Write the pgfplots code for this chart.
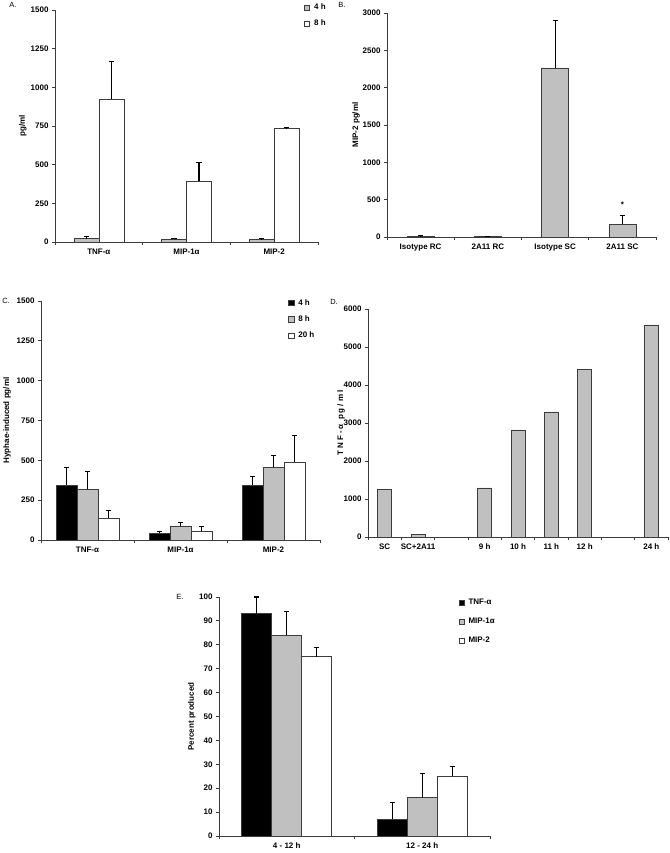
\documentclass[border=0pt]{standalone}
\usepackage{fontspec}
\setmainfont{Liberation Sans}
\usepackage{pgfplots}
\pgfplotsset{compat=1.18}
\definecolor{barg}{RGB}{192,192,192}
\definecolor{axc}{RGB}{60,60,60}
\newcommand{\lf}{\bfseries\fontsize{8}{9.6}\selectfont}
\pgfplotsset{
 panel/.style={
  scale only axis,
  anchor=south west,
  axis x line*=bottom, axis y line*=left,
  axis line style={axc, line width=0.8pt},
  every tick/.style={axc, line width=0.8pt},
  major tick length=3pt,
  tick align=outside,
  ymin=0,
  font=\lf,
  tick label style={font=\lf},
  label style={font=\lf},
  /pgf/number format/assume math mode=true,
  /pgf/number format/1000 sep={},
  x tick label as interval,
  ybar=0pt,
  legend style={draw=none, fill=none, font=\lf, legend cell align=left, row sep=5pt},
  legend image code/.code={\draw[#1, draw=axc, line width=0.4pt] (0pt,-2.6pt) rectangle (5.2pt,2.6pt); \path (7.5pt,0pt);},
 },
 eb/.style={draw=axc, line width=0.6pt,
  error bars/.cd, y dir=plus, y explicit,
  error bar style={black, line width=1.1pt},
  error mark options={black, line width=1.1pt, mark size=2.6pt, rotate=90}},
}
\begin{document}
\begin{tikzpicture}
\path[use as bounding box] (0pt,0pt) rectangle (669pt,853pt);
% ---------- A ----------
\begin{axis}[panel, at={(55pt,611pt)}, width=263pt, height=232pt,
  xmin=0, xmax=3, ymax=1500, ytick={0,250,...,1500},
  xtick={0,1,2,3}, xticklabels={TNF-α,MIP-1α,MIP-2},
  bar width=25pt,
  ylabel={pg/ml}, ylabel style={at={(axis description cs:-0.122,0.5)}, anchor=center},
  legend style={at={(axis description cs:0.935,1.045)}, anchor=north west}]
\addplot[fill=barg, eb] coordinates {(0.5,22) +- (0,16) (1.5,18) +- (0,7) (2.5,15) +- (0,10)};
\addplot[fill=white, eb] coordinates {(0.5,925) +- (0,240) (1.5,395) +- (0,120) (2.5,735) +- (0,5)};
\legend{4 h, 8 h}
\end{axis}
% ---------- B ----------
\begin{axis}[panel, at={(387pt,616pt)}, width=269pt, height=224pt,
  xmin=0, xmax=4, ymax=3000, ytick={0,500,...,3000},
  xtick={0,1,2,3,4}, xticklabels={Isotype RC,2A11 RC,Isotype SC,2A11 SC},
  bar width=27pt,
  ylabel={MIP-2 pg/ml}, ylabel style={at={(axis description cs:-0.115,0.5)}, anchor=center}]
\addplot[fill=barg, eb] coordinates {(0.5,8) +- (0,10) (1.5,5) +- (0,3) (2.5,2265) +- (0,635) (3.5,170) +- (0,120)};
\node[font=\lf] at (axis cs:3.5,430) {*};
\end{axis}
% ---------- C ----------
\begin{axis}[panel, at={(41pt,313pt)}, width=279pt, height=239pt,
  xmin=0, xmax=3, ymax=1500, ytick={0,250,...,1500},
  xtick={0,1,2,3}, xticklabels={TNF-α,MIP-1α,MIP-2},
  bar width=21pt,
  ylabel={Hyphae-induced pg/ml}, ylabel style={at={(axis description cs:-0.122,0.5)}, anchor=center},
  legend style={at={(axis description cs:0.875,1.025)}, anchor=north west}]
\addplot[fill=black, eb] coordinates {(0.5,345) +- (0,110) (1.5,42) +- (0,13) (2.5,345) +- (0,55)};
\addplot[fill=barg, eb] coordinates {(0.5,318) +- (0,112) (1.5,88) +- (0,22) (2.5,458) +- (0,70)};
\addplot[fill=white, eb] coordinates {(0.5,137) +- (0,46) (1.5,57) +- (0,25) (2.5,490) +- (0,163)};
\legend{4 h, 8 h, 20 h}
\end{axis}
% ---------- D ----------
\begin{axis}[panel, at={(368pt,316pt)}, width=300pt, height=228pt,
  xmin=0, xmax=9, ymax=6000, ytick={0,1000,...,6000},
  xtick={0,...,9}, xticklabels={SC,SC+2A11,,9 h,10 h,11 h,12 h,,24 h},
  bar width=14pt,
  ylabel={\addfontfeatures{LetterSpace=25}TNF-α pg/ml}, ylabel style={at={(axis description cs:-0.09,0.5)}, anchor=center}]
\addplot[draw=axc, line width=0.6pt, fill=barg] coordinates {(0.5,1250) (1.5,60) (3.5,1290) (4.5,2820) (5.5,3290) (6.5,4420) (8.5,5580)};
\end{axis}
% ---------- E ----------
\begin{axis}[panel, at={(219pt,17pt)}, width=271pt, height=239pt,
  xmin=0, xmax=2, ymax=100, ytick={0,10,...,100},
  xtick={0,1,2}, xticklabels={4 - 12 h,12 - 24 h},
  bar width=30pt,
  ylabel={Percent produced}, ylabel style={at={(axis description cs:-0.1,0.5)}, anchor=center},
  legend style={at={(axis description cs:0.872,1.01)}, anchor=north west, row sep=8pt}]
\addplot[fill=black, eb] coordinates {(0.5,93) +- (0,7) (1.5,7) +- (0,7)};
\addplot[fill=barg, eb] coordinates {(0.5,84) +- (0,10) (1.5,16) +- (0,10)};
\addplot[fill=white, eb] coordinates {(0.5,75) +- (0,4) (1.5,25) +- (0,4)};
\legend{TNF-α, MIP-1α, MIP-2}
\end{axis}
% panel letters
\node[font=\fontsize{7.5}{8}\selectfont] at (13pt,848pt) {A.};
\node[font=\fontsize{7.5}{8}\selectfont] at (342pt,848pt) {B.};
\node[font=\fontsize{7.5}{8}\selectfont] at (6pt,552pt) {C.};
\node[font=\fontsize{7.5}{8}\selectfont] at (334pt,551pt) {D.};
\node[font=\fontsize{7.5}{8}\selectfont] at (180pt,256pt) {E.};
\end{tikzpicture}
\end{document}
